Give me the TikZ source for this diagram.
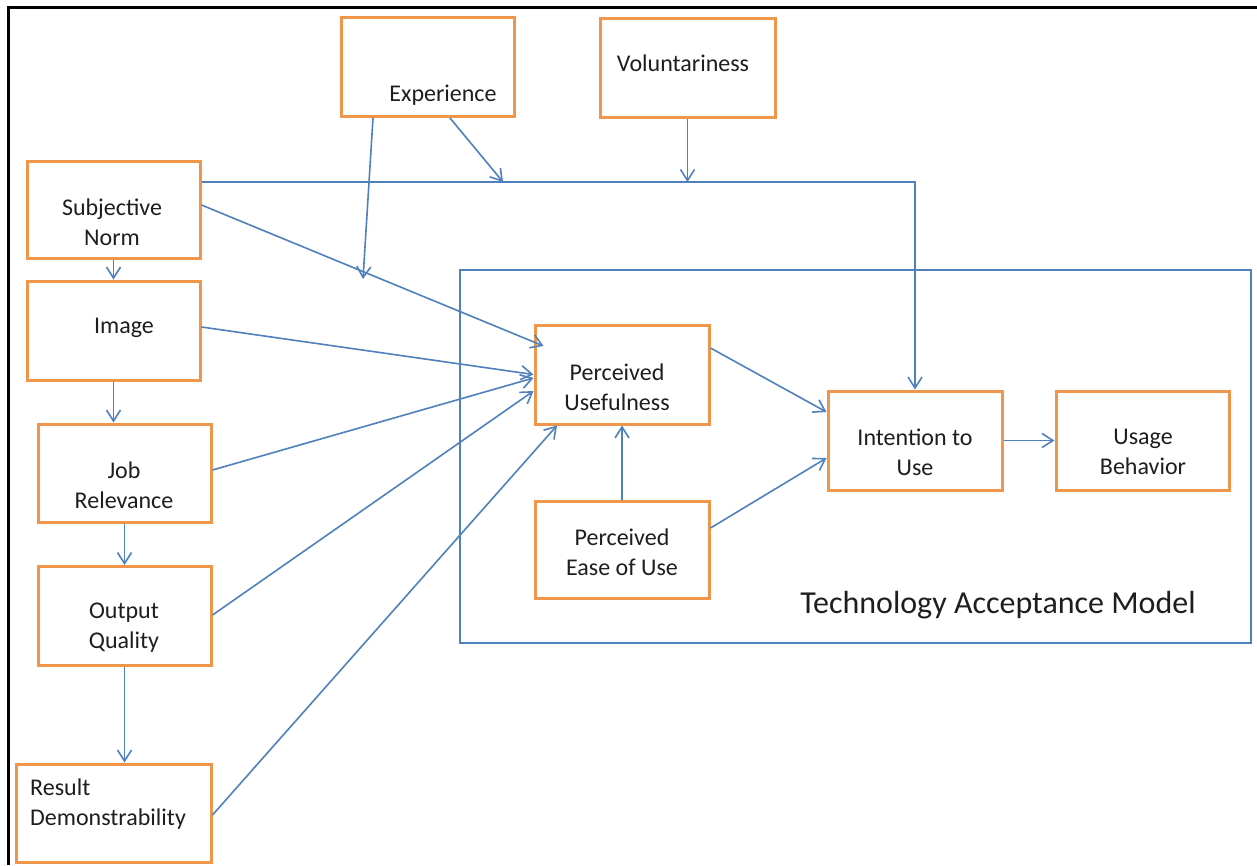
\documentclass[tikz,border=0pt]{standalone}
\usepackage{fontspec}
\setmainfont{Carlito}
\usetikzlibrary{arrows.meta,calc}
\definecolor{boxorange}{RGB}{240,150,75}
\definecolor{linkblue}{RGB}{79,129,189}
\definecolor{txt}{RGB}{30,30,30}

\begin{document}
\begin{tikzpicture}[x=1pt,y=-1pt,
  box/.style={draw=boxorange, line width=3pt, fill=white, inner sep=0pt},
  lbl/.style={font=\fontsize{24}{30}\selectfont, text=txt, align=center, inner sep=0pt},
  link/.style={draw=linkblue, line width=1.6pt, -{Straight Barb[length=11pt,width=14pt]}},
  plain/.style={draw=linkblue, line width=1.6pt}
]
\useasboundingbox (0,0) rectangle (1257,865);
\fill[white] (0,0) rectangle (1257,865);

% outer frame (left and top edges)
\draw[line width=3pt] (8,865) -- (8,7.5) -- (1257,7.5);

% Technology Acceptance Model group frame
\node[draw=linkblue, line width=1.4pt, minimum width=791pt, minimum height=373pt, inner sep=0pt] (tam) at (855.5,456.5) {};
\node[lbl, font=\fontsize{32}{38}\selectfont] (tamT) at (998,605) {Technology Acceptance Model};

% construct boxes
\node[box, minimum width=173pt, minimum height=99pt] (exp) at (427.5,67) {};
\node[box, minimum width=175pt, minimum height=99pt] (vol) at (687.5,67.5) {};
\node[box, minimum width=173pt, minimum height=97pt] (sn)  at (113.5,209.5) {};
\node[box, minimum width=173pt, minimum height=99pt] (img) at (113.5,330.5) {};
\node[box, minimum width=173pt, minimum height=98pt] (jr)  at (124.5,473) {};
\node[box, minimum width=173pt, minimum height=99pt] (oq)  at (124.5,616) {};
\node[box, minimum width=195pt, minimum height=98pt] (rd)  at (113.5,813) {};
\node[box, minimum width=174pt, minimum height=99pt] (pu)  at (622,374.5) {};
\node[box, minimum width=174pt, minimum height=97pt] (peu) at (622,549.5) {};
\node[box, minimum width=174pt, minimum height=99pt] (itu) at (915,440.5) {};
\node[box, minimum width=173pt, minimum height=99pt] (ub)  at (1142.5,440.5) {};

% box texts
\node[lbl] (expT) at (443,95) {Experience};
\node[lbl] (volT) at (683,63) {Voluntariness};
\node[lbl] (snT)  at (112,222) {Subjective\\Norm};
\node[lbl] (imgT) at (124,328) {Image};
\node[lbl] (jrT)  at (124,485) {Job\\Relevance};
\node[lbl] (oqT)  at (124,628) {Output\\Quality};
\node[lbl, align=left, anchor=west] (rdT) at (30,804) {Result\\Demonstrability};
\node[lbl] (puT)  at (617,387) {Perceived\\Usefulness};
\node[lbl] (peuT) at (622,552) {Perceived\\Ease of Use};
\node[lbl] (ituT) at (915,452) {Intention to\\Use};
\node[lbl] (ubT)  at (1143,452) {Usage\\Behavior};

% free ends of the moderator arrows
\coordinate (expOnPath) at (363,279);
\coordinate (modLine)   at (503,182);

% left column chain
\draw[link] (sn.south) -- (img.north);
\draw[link] (img.south) -- (img.south |- jr.north);
\draw[link] (jr.south) -- (oq.north);
\draw[link] (oq.south) -- (oq.south |- rd.north);

% determinants of perceived usefulness
\draw[link] ([yshift=4.5pt]sn.east) -- ([xshift=10pt,yshift=28.5pt]pu.west);
\draw[link] ([yshift=3.5pt]img.east) -- (pu.west);
\draw[link] ([yshift=3pt]jr.east) -- ([yshift=-3.5pt]pu.west);
\draw[link] ([yshift=1pt]oq.east) -- ([yshift=-16.5pt]pu.west);
\draw[link] ([yshift=-2pt]rd.east) -- ([xshift=-65pt]pu.south);

% subjective norm to intention, moderated by experience and voluntariness
\draw[link] ([yshift=27.5pt]sn.east) -| (itu.north);
\draw[link] ([xshift=-54.5pt]exp.south) -- (expOnPath);
\draw[link] ([xshift=22.5pt]exp.south) -- (modLine);
\draw[link] (vol.south) -- (vol.south |- modLine);

% core TAM relations
\draw[link] (peu.north) -- (pu.south);
\draw[link] ([yshift=26.5pt]pu.east) -- ([yshift=28.5pt]itu.west);
\draw[link] ([yshift=21.5pt]peu.east) -- ([yshift=-17.5pt]itu.west);
\draw[link] (itu.east) -- (ub.west);
\end{tikzpicture}
\end{document}
